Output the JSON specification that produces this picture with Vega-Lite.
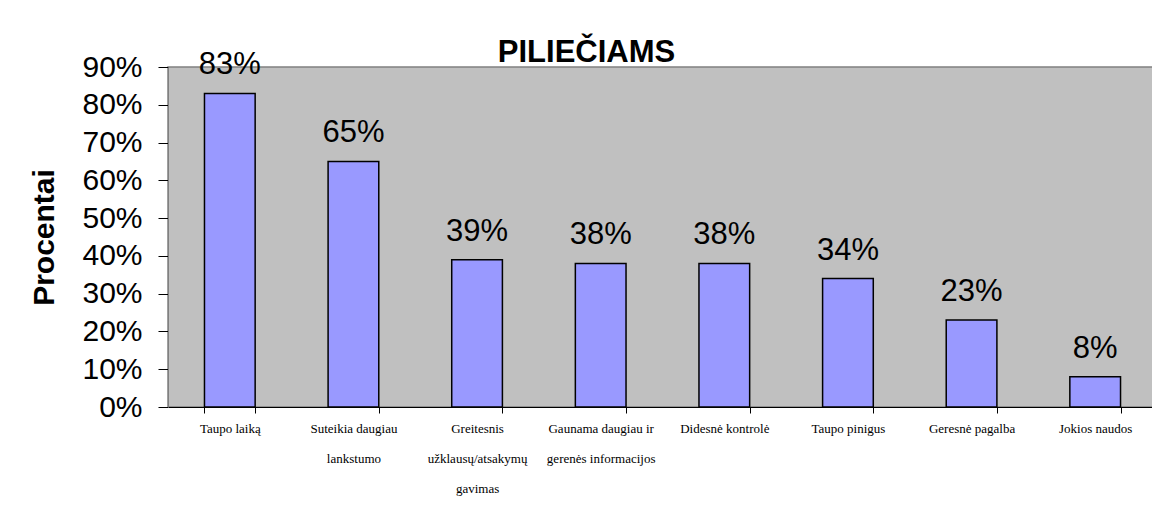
{
  "$schema": "https://vega.github.io/schema/vega-lite/v6.json",
  "width": 989,
  "height": 340,
  "autosize": "none",
  "padding": {"left": 168, "top": 67, "right": 0, "bottom": 103},
  "background": "white",
  "title": {
    "text": "PILIEČIAMS",
    "font": "Liberation Sans",
    "fontSize": 31,
    "fontWeight": "bold",
    "color": "black",
    "anchor": "middle",
    "frame": "group",
    "baseline": "alphabetic",
    "dx": -76,
    "dy": 49,
    "offset": 5
  },
  "data": {
    "values": [
      {"category": "Taupo laiką", "value": 0.83},
      {"category": "Suteikia daugiau|lankstumo", "value": 0.65},
      {"category": "Greitesnis|užklausų/atsakymų|gavimas", "value": 0.39},
      {"category": "Gaunama daugiau ir|gerenės informacijos", "value": 0.38},
      {"category": "Didesnė kontrolė", "value": 0.38},
      {"category": "Taupo pinigus", "value": 0.34},
      {"category": "Geresnė pagalba", "value": 0.23},
      {"category": "Jokios naudos", "value": 0.08}
    ]
  },
  "encoding": {
    "x": {
      "field": "category",
      "type": "nominal",
      "sort": null,
      "scale": {"paddingInner": 0.59, "paddingOuter": 0.295},
      "axis": {
        "title": null,
        "labelAngle": 0,
        "labelExpr": "split(datum.label, '|')",
        "labelFont": "Liberation Serif",
        "labelFontSize": 13,
        "labelColor": "black",
        "labelLineHeight": 30,
        "labelBaseline": "top",
        "labelPadding": 9,
        "labelLimit": 200,
        "tickBand": "extent",
        "tickSize": 6,
        "tickColor": "black",
        "domainColor": "black",
        "domainWidth": 1
      }
    },
    "y": {
      "field": "value",
      "type": "quantitative",
      "scale": {"domain": [0, 0.9], "nice": false, "zero": true},
      "axis": {
        "title": "Procentai",
        "titleFont": "Liberation Sans",
        "titleFontSize": 30,
        "titleFontWeight": "bold",
        "titleColor": "black",
        "titlePadding": 22,
        "values": [0, 0.1, 0.2, 0.3, 0.4, 0.5, 0.6, 0.7, 0.8, 0.9],
        "format": ".0%",
        "labelFont": "Liberation Sans",
        "labelFontSize": 30,
        "labelColor": "black",
        "labelPadding": 16,
        "tickSize": 10,
        "tickColor": "black",
        "domainColor": "#808080",
        "grid": false
      }
    }
  },
  "layer": [
    {
      "mark": {"type": "bar", "color": "#9999FF", "stroke": "black", "strokeWidth": 1.5}
    },
    {
      "mark": {
        "type": "text",
        "font": "Liberation Sans",
        "fontSize": 31,
        "color": "black",
        "baseline": "alphabetic",
        "dy": -19
      },
      "encoding": {"text": {"field": "value", "type": "quantitative", "format": ".0%"}}
    }
  ],
  "config": {
    "view": {"fill": "#C0C0C0", "stroke": "#808080", "strokeWidth": 1.5}
  }
}
